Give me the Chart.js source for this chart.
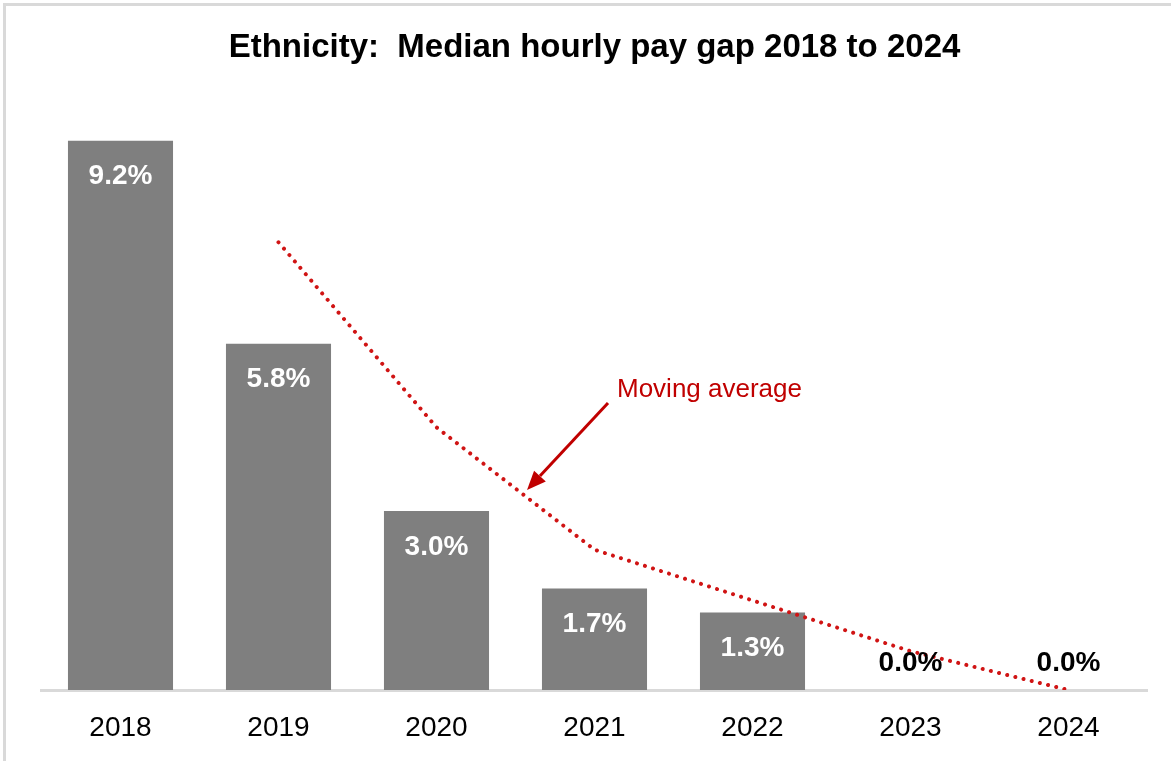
<!DOCTYPE html>
<html>
<head>
<meta charset="utf-8">
<title>Ethnicity: Median hourly pay gap 2018 to 2024</title>
<script src="https://cdn.jsdelivr.net/npm/chart.js@4/dist/chart.umd.min.js"></script>
<style>
  html, body { margin: 0; padding: 0; background: #ffffff; }
  #wrap { position: relative; width: 1171px; height: 761px; }
  canvas { display: block; }
</style>
</head>
<body>
<div id="wrap"><canvas id="chart" width="1171" height="761"></canvas></div>
<script>
// Pay gap figures (%) by year
const years = ['2018', '2019', '2020', '2021', '2022', '2023', '2024'];
const payGap = [9.2, 5.8, 3.0, 1.7, 1.3, 0.0, 0.0];
// Two-year moving average of the pay gap (no value for the first year)
const movingAverage = [null, 7.5, 4.4, 2.35, 1.5, 0.65, 0.0];
const titleText = 'Ethnicity:  Median hourly pay gap 2018 to 2024';
const annotationText = 'Moving average';

const FONT = '"Liberation Sans", Arial, Helvetica, sans-serif';
const BAR_GREY = '#7f7f7f';
const DARK_RED = '#c00000';
const DOT_RED = '#d01414';

// Light grey frame along the top and left edges
const framePlugin = {
  id: 'frame',
  beforeDraw(chart) {
    const ctx = chart.ctx;
    ctx.save();
    ctx.fillStyle = '#d9d9d9';
    ctx.fillRect(3, 3, chart.width - 3, 3);
    ctx.fillRect(3, 3, 3, chart.height - 3);
    ctx.restore();
  }
};

// Percentage labels on the bars (bar dataset is index 1)
const barLabelPlugin = {
  id: 'barLabels',
  afterDatasetsDraw(chart) {
    const ctx = chart.ctx;
    const meta = chart.getDatasetMeta(1);
    ctx.save();
    ctx.font = 'bold 28px ' + FONT;
    ctx.textAlign = 'center';
    ctx.textBaseline = 'middle';
    meta.data.forEach((bar, i) => {
      const v = payGap[i];
      const txt = v.toFixed(1) + '%';
      if (v > 0) {
        ctx.fillStyle = '#ffffff';
        ctx.fillText(txt, bar.x, bar.y + 36);
      } else {
        ctx.fillStyle = '#000000';
        ctx.fillText(txt, bar.x, bar.y - 27);
      }
    });
    ctx.restore();
  }
};

// Callout text with an arrow pointing at the moving-average line
const calloutPlugin = {
  id: 'callout',
  afterDatasetsDraw(chart) {
    const ctx = chart.ctx;
    const x0 = 608, y0 = 403, x1 = 527, y1 = 490;
    ctx.save();
    ctx.strokeStyle = DARK_RED;
    ctx.fillStyle = DARK_RED;
    ctx.lineWidth = 3;
    const ang = Math.atan2(y1 - y0, x1 - x0);
    const headLen = 19, headHalf = 8;
    const bx = x1 - headLen * Math.cos(ang), by = y1 - headLen * Math.sin(ang);
    ctx.beginPath();
    ctx.moveTo(x0, y0);
    ctx.lineTo(bx, by);
    ctx.stroke();
    ctx.beginPath();
    ctx.moveTo(x1, y1);
    ctx.lineTo(bx + headHalf * Math.sin(ang), by - headHalf * Math.cos(ang));
    ctx.lineTo(bx - headHalf * Math.sin(ang), by + headHalf * Math.cos(ang));
    ctx.closePath();
    ctx.fill();
    ctx.font = '26px ' + FONT;
    ctx.textAlign = 'left';
    ctx.textBaseline = 'alphabetic';
    ctx.fillText(annotationText, 617, 397);
    ctx.restore();
  }
};

new Chart(document.getElementById('chart'), {
  data: {
    labels: years,
    datasets: [
      {
        type: 'line',
        label: annotationText,
        data: movingAverage,
        borderColor: DOT_RED,
        borderWidth: 4,
        borderDash: [0.01, 8.4],
        borderCapStyle: 'round',
        pointRadius: 0,
        tension: 0,
        fill: false,
        order: 0
      },
      {
        type: 'bar',
        label: 'Median hourly pay gap',
        data: payGap,
        backgroundColor: BAR_GREY,
        borderWidth: 0,
        barPercentage: 0.665,
        categoryPercentage: 1.0,
        order: 1
      }
    ]
  },
  options: {
    responsive: false,
    animation: false,
    layout: { padding: { left: 41.5, right: 23.5, top: 0, bottom: 0 } },
    plugins: {
      legend: { display: false },
      tooltip: { enabled: false },
      title: {
        display: true,
        text: titleText,
        color: '#000000',
        font: { family: FONT, size: 33, weight: 'bold' },
        padding: { top: 28.2, bottom: 25.2 }
      }
    },
    scales: {
      x: {
        offset: true,
        grid: { display: false, drawTicks: false },
        border: { display: true, color: '#d9d9d9', width: 3 },
        ticks: {
          color: '#000000',
          font: { family: FONT, size: 28 },
          padding: 21,
          maxRotation: 0
        },
        afterFit(scale) {
          scale.height = 71;
        }
      },
      y: {
        display: false,
        min: 0,
        max: 10
      }
    }
  },
  plugins: [framePlugin, barLabelPlugin, calloutPlugin]
});
</script>
</body>
</html>
